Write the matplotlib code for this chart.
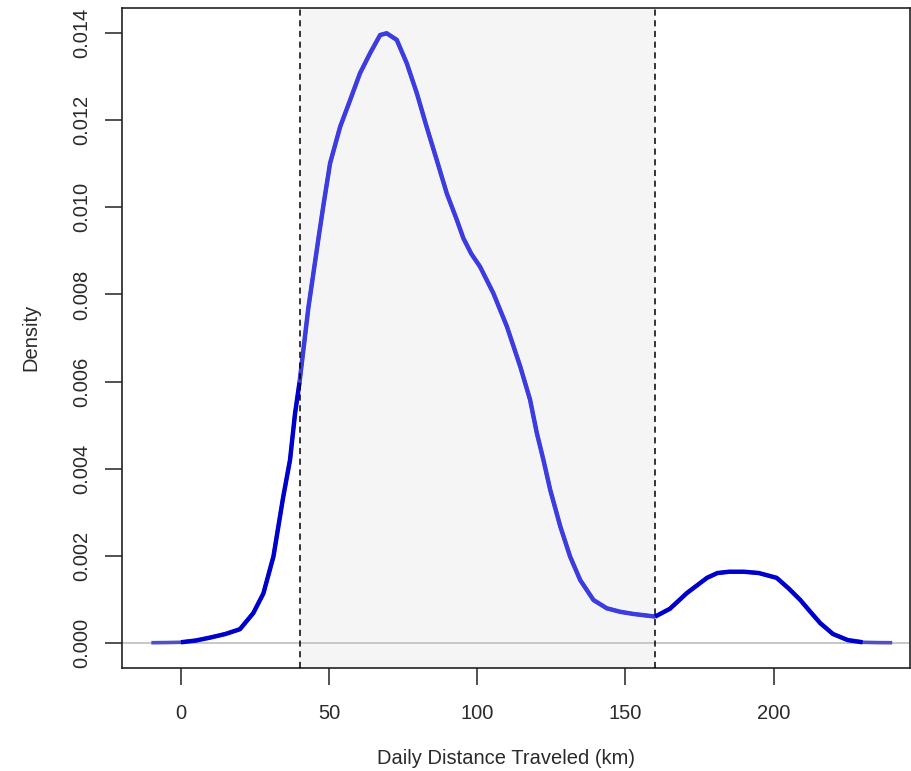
import matplotlib
matplotlib.use("Agg")
import matplotlib.pyplot as plt
import numpy as np

# Density curve
dist_km = [-10, -5, 0, 5, 10, 15, 19.9, 24.4, 27.8, 31.2, 34.5, 36.8, 38.5, 40, 43,
           46.4, 48.0, 50.3, 53.7, 57.1, 60.4, 63.8, 67.2, 69.4, 72.8, 76.2, 79.6,
           82.9, 86.3, 89.7, 93.1, 95.3, 98, 100.9, 105.4, 110, 114.5, 117.8, 120.1,
           122.3, 124.6, 128, 131.3, 134.7, 139.2, 143.7, 148.2, 152.7, 160,
           165, 170.7, 177.5, 181, 185, 190, 195, 201, 205, 209, 212.5, 215.7,
           220, 225, 230, 235, 240]
density = [0.0, 0.000003, 0.00001, 0.00005, 0.00012, 0.0002, 0.00031, 0.00068, 0.00113,
           0.00198, 0.00335, 0.0042, 0.00527, 0.00598, 0.0077,
           0.00929, 0.01002, 0.01101, 0.01185, 0.01247, 0.01308, 0.01354, 0.01396,
           0.0140, 0.01385, 0.01331, 0.01262,
           0.01185, 0.01109, 0.01032, 0.00971, 0.00929, 0.00893, 0.00864, 0.00803,
           0.00726, 0.00634, 0.00558, 0.00481,
           0.0042, 0.00351, 0.00267, 0.00198, 0.00144, 0.00098, 0.00079, 0.00071,
           0.00066, 0.0006,
           0.00078, 0.00114, 0.00149, 0.0016, 0.00163, 0.00163, 0.0016, 0.00149,
           0.00125, 0.00098, 0.0007, 0.00045,
           0.0002, 0.00006, 0.00001, 0.000002, 0.0]

band_low, band_high = 40, 160
x_ticks = [0, 50, 100, 150, 200]
y_ticks = [0.000, 0.002, 0.004, 0.006, 0.008, 0.010, 0.012, 0.014]

plt.rcParams['font.family'] = ['Liberation Sans', 'DejaVu Sans']

fig = plt.figure(figsize=(9.12, 7.71), dpi=100)
ax = fig.add_axes([0.1341, 0.134, 0.8637, 0.8556])

x = np.array(dist_km)
y = np.array(density)

ax.axvspan(band_low, band_high, color='#f5f5f5', zorder=0, lw=0)
ax.axhline(0, color='#bebebe', lw=1.2, zorder=1)

ax.plot(x, y, color='#5050c4', lw=2.6, zorder=2, solid_capstyle='butt')
m1 = (x >= 0) & (x <= band_low)
m2 = (x >= band_low) & (x <= band_high)
m3 = (x >= band_high) & (x <= 230)
ax.plot(x[m1], y[m1], color='#0000cc', lw=3.2, zorder=3, solid_capstyle='butt')
ax.plot(x[m2], y[m2], color='#3c3ce0', lw=3.2, zorder=3, solid_capstyle='butt')
ax.plot(x[m3], y[m3], color='#0000cc', lw=3.2, zorder=3, solid_capstyle='butt')

for v in (band_low, band_high):
    ax.axvline(v, color='black', lw=1.1, ls=(0, (4, 3)), zorder=4)

ax.set_xlim(-19.8, 246)
ax.set_ylim(-0.000574, 0.01458)
ax.set_xticks(x_ticks)
ax.set_xticklabels([str(t) for t in x_ticks])
ax.set_yticks(y_ticks)
ax.set_yticklabels([f"{t:.3f}" for t in y_ticks], rotation=90, va='center')

ax.tick_params(axis='both', length=12, width=1.1, color='#222222', labelsize=14.5,
               labelcolor='#2a2a2a')
ax.tick_params(axis='x', pad=14)
ax.tick_params(axis='y', pad=10)
for s in ax.spines.values():
    s.set_color('#222222')
    s.set_linewidth(1.2)

ax.set_xlabel("Daily Distance Traveled (km)", fontsize=14.5, color='#2a2a2a')
ax.xaxis.set_label_coords(0.487, -0.124)
ax.set_ylabel("Density", fontsize=14.5, color='#2a2a2a')
ax.yaxis.set_label_coords(-0.104, 0.5)

fig.savefig("out.png", dpi=100)
